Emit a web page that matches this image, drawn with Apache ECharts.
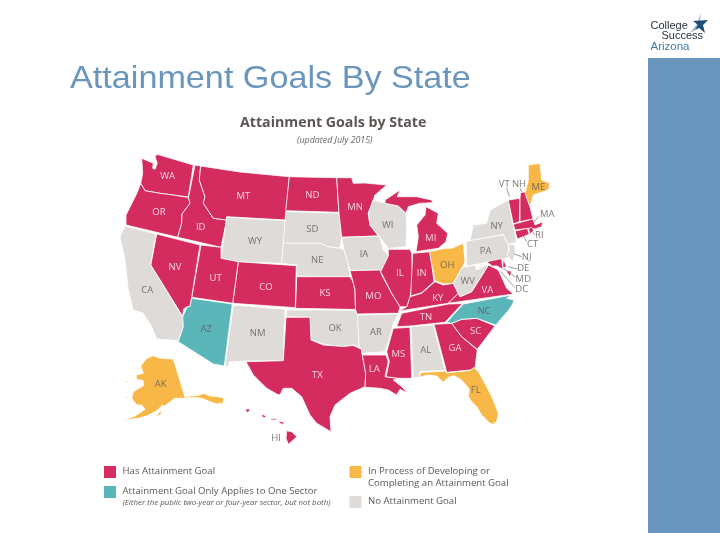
<!DOCTYPE html>
<html><head><meta charset="utf-8">
<style>html,body{margin:0;padding:0;background:#fff}#c{width:720px;height:533px;filter:blur(0.35px)}</style>
<script src="https://cdn.jsdelivr.net/npm/echarts@6/dist/echarts.min.js"></script>
</head><body><div id="c"></div>
<script>
// Category membership
const hasGoal = ['WA','OR','ID','MT','ND','MN','NV','UT','CO','KS','MO','IL','IN','MI','KY','TN','VA','TX','LA','MS','GA','SC','VT','NH','MA','CT','RI','MD','DE','HI'];
const oneSector = ['AZ','NC'];
const inProcess = ['AK','FL','OH','ME'];
const noGoal = ['CA','WY','SD','NE','NM','OK','IA','WI','AR','AL','WV','PA','NY','NJ','DC'];
const categoryNames = ['Has Attainment Goal','Attainment Goal Only Applies to One Sector','In Process of Developing or\nCompleting an Attainment Goal','No Attainment Goal'];
const categoryColors = ['#D42C5E','#5BB6B9','#F8B848','#DEDBD8'];

// State outlines (map units = picture pixels)
const outlines = {
WA:[[[141.7,158.3],[153.3,163.3],[152.7,168.3],[155,169.3],[157.3,163.3],[155,156.7],[157.3,154.3],[193.3,165],[188.3,197],[173,195],[160,193.3],[145,190.7],[140.7,183.3],[142.7,173.3]]],
OR:[[[140.7,183.3],[145,190.7],[160,193.3],[173,195],[188.5,197.5],[190,203.3],[182,214],[181.7,223.3],[177.7,237.3],[126,225],[126,215],[131,205],[137,193]]],
ID:[[[195,165],[200.7,166],[199.3,180],[205,196.7],[203.3,203.3],[213.3,218.3],[226.7,220],[221,247.3],[177.7,237.3],[181.7,223.3],[182,214],[190,203.3],[188.5,197.5]]],
MT:[[[200.7,166],[240,172],[289.3,176.7],[285.7,220],[226.7,216.7],[226.7,220],[213.3,218.3],[203.3,203.3],[205,196.7],[199.3,180]]],
WY:[[[226.7,217.3],[285.7,220.7],[281.7,263.3],[238.3,261.7],[221,258.3]]],
ND:[[[289.3,176.7],[336.7,177.7],[339,212.3],[285.7,210.7]]],
SD:[[[285.7,211.7],[339,213.3],[341.7,237.3],[340,248.3],[328,246.7],[320,243.3],[283.3,243.3]]],
NE:[[[283.3,243.3],[320,243.3],[328,246.7],[340,248.3],[344,250],[348,263],[350,276.7],[296.7,276],[296.7,265],[281.7,263.3]]],
KS:[[[296.7,276.7],[350,276.7],[353,281.7],[355,290],[355.5,309.5],[295.5,308.3]]],
CO:[[[238.3,261.7],[296.3,265.7],[295.3,307.7],[232.7,303.3]]],
UT:[[[201,245],[221,247.3],[221,258.3],[238.3,261.7],[232.7,303.3],[191.7,297.3]]],
NV:[[[156.7,234],[200,245],[191.7,297.3],[190,306.7],[187.3,306.7],[183.5,309],[182.7,316.5],[150.7,265]]],
CA:[[[125,226],[156,234],[150.7,265],[182.7,316.7],[183.3,326.7],[178.3,340.7],[156.7,339],[151.7,326.7],[143,313],[133.3,310],[128.3,290],[125,260],[120,236.7]]],
AZ:[[[191.7,298.3],[232.3,304],[224.3,366],[213.3,364],[178.3,341.7],[183.3,326.7],[182.7,316.7],[187.3,306.7],[190,306.7]]],
NM:[[[233.3,305],[285,309.3],[283.3,360.7],[246,361],[229.3,361.7],[228.3,366.7],[225,366]]],
OK:[[[286.7,310],[330,310],[356,310.5],[358,315],[359.3,346.7],[353,345],[343,346.7],[330,345],[323,344],[313.3,340],[311,340],[310,317.3],[286,316.7]]],
TX:[[[286,317.3],[310,317.3],[311,340],[323.3,345],[343,346.5],[353,345.5],[361.7,349.3],[362.3,355],[365.7,373.3],[365,386.7],[350,393.3],[335,405],[330,416.7],[331,431.7],[330,430.7],[316.7,423.3],[310,415],[301.7,396.7],[291.7,388.3],[283.3,388.3],[280,395],[276.7,394],[266.7,388.3],[253.3,375],[246,361.7],[283.3,360.7]]],
AK:[[[153.3,355.7],[160,358.3],[173.3,359],[185,397.3],[190,396],[200,395],[203.3,393.3],[210,396],[218.3,396.7],[224,398.3],[222.7,403.3],[216.7,404],[210,401.7],[201.7,398.3],[193.3,397.3],[185,398.3],[175,398.3],[168.3,403.3],[163.3,406.7],[162.7,405],[156.7,410.7],[146.7,416],[138.3,418.3],[130,419.3],[121.7,420.7],[135,416],[145,409.3],[141.7,405],[136.7,405],[131.7,398.3],[133.3,391.7],[143.3,385.7],[143.3,380.7],[136.7,379.3],[136,375],[143.3,373.3],[140.7,366],[146.7,358.3]],[[125,380],[128,382],[126,383]],[[125,397],[128,397],[127,398.5]],[[156.7,415],[161.7,410],[161,414],[157,416.5]]],
HI:[[[286.7,430.7],[291.7,431.7],[296.7,436.7],[293.3,440],[288.3,444.3],[286,438.3]],[[245,409.3],[249,408.7],[250,411],[247,412.5]],[[261.7,414],[266,416],[265,418],[262,416.7]],[[270,419],[276,418.3],[276.7,420],[271,420]],[[278.3,421],[284,422.3],[283.3,424.7],[280,423.3]]],
MN:[[[336.7,177.7],[351.7,177.7],[353.3,183.3],[365,183],[386.7,185],[375,195],[373.3,200],[368.3,213.3],[370,225],[378.3,236],[341.7,237.3],[339,213.3]]],
WI:[[[373.3,200],[385,203.3],[398.3,206],[406,213.3],[406.7,226.7],[406,246.7],[388.3,248.3],[380,237.3],[370,225],[368.3,213.3]]],
IA:[[[341.7,237.3],[378.3,236],[380,237.3],[383.3,250],[388.3,255],[383.3,270],[350,270.7],[348,263],[344,250]]],
MO:[[[350,270.7],[380,270],[381.7,275],[391.7,293.3],[400,306.7],[398.3,313.3],[393.3,313.3],[357,314],[355.5,309.5],[355,290],[353,281.7]]],
AR:[[[357.3,315],[393.3,314],[398.3,313.8],[393.3,323.3],[390,336.7],[385,351.7],[361.7,353.3],[361.7,349],[359.3,346.7]]],
LA:[[[362.3,355],[386,355],[388.3,361.7],[385,376.7],[398.3,378.3],[393.3,380],[401.7,386.7],[408.3,393.3],[400,389.3],[396.7,395],[388.3,390],[380,388.3],[365,387.3],[365.7,373.3]]],
MS:[[[393.3,328.3],[410,327.3],[411.7,378.3],[398.3,378.3],[386,376.7],[389.3,361.7],[386.7,351.7]]],
AL:[[[411,326.7],[433.3,325],[445,370],[420,371.7],[420,377],[413.3,378]]],
GA:[[[434,324.3],[451.7,323.3],[461.7,336.7],[477.3,350],[475,368.3],[470,370],[446.7,372.3]]],
FL:[[[420,372.7],[445,371],[446.7,372.8],[470,370.5],[474,367.3],[478.3,371.7],[486.7,386.7],[493.3,400],[498.3,413.3],[496.7,421.7],[492.7,424.3],[489.3,422.7],[481.7,415],[476.7,406.7],[471.7,401.7],[468.3,396.7],[469.3,389.3],[461.7,380],[454,375.7],[448.3,377.3],[443.3,382.3],[436.7,376],[426.7,375],[420,377.3]]],
SC:[[[451.7,323.3],[461.7,319.3],[476.7,318.3],[495,326],[477.3,349.3],[461.7,336.7]]],
NC:[[[446.7,322.3],[463.3,304],[511.7,295],[506.7,298.3],[514,300],[512.7,304],[508.3,310.7],[500,320],[496,325],[476.7,318.3],[461.7,319.3],[451.7,323.3]]],
TN:[[[396.7,326.7],[401.7,313.3],[448.3,304],[462.5,303.5],[445,322.3],[410,326]]],
KY:[[[399.3,311],[406.7,306.7],[410,296.7],[421.7,293.3],[435,281.7],[443.3,285],[453.3,283.3],[458.3,293.3],[448.3,303.3]]],
IL:[[[388.3,249.3],[410,249.3],[411.7,253.3],[412.7,280],[410,296.7],[406.7,306.7],[400,306.7],[391.7,293.3],[380.7,271.7],[388.3,256]]],
IN:[[[412.7,253.3],[430,251.7],[434,281.7],[421.7,292.7],[410.7,296]]],
MI:[[[385,200],[400,190],[397.3,196.7],[416.7,196.7],[431.7,200],[432.7,202.7],[420,203.3],[408.3,206.7],[406,213.3],[398.3,206],[385,203.3]],[[426,206.7],[438.3,213.3],[436.7,223.3],[447.7,233.3],[446,241.7],[438.3,248.3],[416,251.7],[418.3,236.7],[416.7,225],[425,215]]],
OH:[[[429.3,251.7],[445,248.3],[451.7,248.3],[463.3,243.3],[465,261.7],[461.7,268.3],[453.3,283.3],[443.3,284],[435,280.7]]],
PA:[[[466,241.7],[471.7,240],[503.3,235],[508.3,245],[509,256.7],[503.3,259.5],[466.7,266]]],
NY:[[[508.3,200],[515,235],[516.7,242.3],[508.3,244.3],[503.3,234.5],[470,240.5],[473.3,225],[486.7,223.3],[490,210]]],
VT:[[[508.3,200],[520,198.3],[519.3,221.7],[513.3,224]]],
NH:[[[520,198.3],[520.5,192.7],[525,191.7],[530,206.7],[533,219],[520,221.7]]],
MA:[[[513.3,224.3],[532.7,219],[535,225],[542.7,221.7],[541.7,226.7],[535,229],[530,228.3],[515,230]]],
CT:[[[515,231],[527.3,228.3],[529.3,234.3],[517.3,239]]],
RI:[[[528.3,228.3],[531.7,227.7],[534,230],[530,234]]],
ME:[[[528.3,165],[540,163.3],[541.7,180],[550,183.3],[548.3,190],[533.3,195],[530,206.7],[525,193.3],[528.3,180]]],
NJ:[[[508.3,244.3],[515,245],[515,253.3],[512.7,261.7],[507.3,255],[509.3,250]]],
DE:[[[503.3,259],[506.7,266.7],[502.7,267.7]]],
MD:[[[486.7,261.7],[501.7,258.5],[502.8,269.5],[497,266],[492,266]],[[506,271],[511.7,271],[510,276.7]]],
DC:[[[499,270],[501.5,270],[501,272.5]]],
VA:[[[448.3,303.3],[458.3,293.3],[460,296.7],[471.7,291.7],[483.3,273.3],[488.3,265],[498.3,270],[506.7,288.3],[513.3,294]]],
WV:[[[465,266.7],[475,265],[476.7,270],[486.7,265],[488.3,265],[483.3,273.3],[471.7,291.7],[460,296.7],[458.3,293.3],[453.3,283.3],[461.7,268.3]]]
};

// Label anchors in map units
const labelAnchors = {WA:[167.7,176.7],OR:[159,212.3],ID:[200.7,227.7],MT:[243.3,196.7],WY:[255,241.7],ND:[312.3,195.7],SD:[312.3,229.3],NE:[317.3,260],KS:[325,293.3],CO:[266,287.3],UT:[215.7,278.3],NV:[175,267.3],CA:[147.3,290],AZ:[206.3,329.3],NM:[257.7,333.3],OK:[335,328.3],TX:[317.3,375],AK:[160.7,384],HI:[276,438.3],MN:[355,207.3],WI:[387.7,225],IA:[364,254],MO:[373.3,296],AR:[376,332.7],LA:[374.3,369.3],MS:[398.3,354.3],AL:[425.7,350],GA:[455,348.3],FL:[475.7,390],SC:[475.7,331],NC:[484,311],TN:[426,317.7],KY:[437.7,298.3],IL:[400,273.3],IN:[421.7,273.3],MI:[430.7,238.3],OH:[447.3,265],PA:[485.7,251.7],NY:[496.7,226.7],VA:[487.3,290],WV:[467.7,281],ME:[538.3,187.3],VT:[504.3,184.3],NH:[519,184.3],MA:[547.3,214.3],RI:[539.3,235],CT:[532.7,244.3],NJ:[526.7,257.3],DE:[523.3,268.3],MD:[523.3,279],DC:[521.7,289]};
const outsideLabels = ['VT','NH','MA','RI','CT','NJ','DE','MD','DC','HI'];
const leaderLines = [[[506.7,188],[509.3,196.7]],[[520,188],[521.7,192]],[[538.3,216.7],[533.3,223]],[[535,235],[530.7,230]],[[526.7,241.7],[523.3,236]],[[521.7,256.7],[514,254]],[[517.7,269],[508.3,266.7]],[[515.7,277.3],[503.3,268.3]],[[515,287.7],[500.7,271.7]]];

const groups = [hasGoal, oneSector, inProcess, noGoal];
const features = Object.keys(outlines).map(name => ({
  type:'Feature', properties:{name},
  geometry:{type:'MultiPolygon', coordinates: outlines[name].map(r=>[r.concat([r[0]])])}
}));
echarts.registerMap('usTraced',{type:'FeatureCollection',features});

const regions = [];
groups.forEach((g,i)=>g.forEach(name=>regions.push({name,itemStyle:{areaColor:categoryColors[i]}})));

const labelData = Object.keys(labelAnchors).map(name=>{
  const white = hasGoal.includes(name) && !outsideLabels.includes(name);
  return {name,value:labelAnchors[name],label:{color:white?'#fff':'#5c5856'}};
});

const FONT='"Open Sans","Noto Sans",sans-serif';
const legendPos=[[104,466],[104,486],[349.5,466],[349.5,496]];
const legendGraphic=[];
categoryColors.forEach((c,i)=>legendGraphic.push({type:'rect',shape:{x:legendPos[i][0],y:legendPos[i][1],width:12,height:12},style:{fill:c},silent:true}));
const tx=(text,x,y,font,fill,extra,more)=>Object.assign({type:'text',x,y,silent:true,style:Object.assign({text,font,fill,textVerticalAlign:'middle'},extra||{})},more||{});
legendGraphic.push(
 tx('Attainment Goals By State',70,79,'32px "Liberation Sans"','#6A96BD',null,{scaleX:1.068}),
 tx(categoryNames[0],122.5,471.7,'9.6px '+FONT,'#5c5856'),
 tx(categoryNames[1],122.5,491.7,'9.6px '+FONT,'#5c5856'),
 tx('(Either the public two-year or four-year sector, but not both)',122.5,503,'italic 7.9px '+FONT,'#5c5856'),
 tx('In Process of Developing or',368,471.7,'9.6px '+FONT,'#5c5856'),
 tx('Completing an Attainment Goal',368,483,'9.6px '+FONT,'#5c5856'),
 tx(categoryNames[3],368,501,'9.6px '+FONT,'#5c5856'),
 {type:'rect',shape:{x:648,y:58,width:72,height:475},style:{fill:'#6A96BD'},silent:true},
 tx('College',650.5,26,'11px "Liberation Sans"','#27303a'),
 tx('Success',661.5,36,'11px "Liberation Sans"','#27303a'),
 tx('Arizona',650.5,46.5,'11.5px "Liberation Sans"','#3f78a8'),
 {type:'polygon',shape:{points:[[701,13],[697,24],[690,33],[698,28],[700,20]]},style:{fill:'#8fb3d1'},silent:true},
 {type:'polygon',shape:{points:[[693,21],[708,20],[703,25],[705,33],[699,28],[695,30],[698,25]]},style:{fill:'#1f4e79'},silent:true}
);

const chart=echarts.init(document.getElementById('c'),null,{renderer:'canvas'});
chart.setOption({
 animation:false,backgroundColor:'#fff',
 title:[
  {text:'Attainment Goals by State',left:240,top:115.5,padding:0,textStyle:{fontFamily:FONT,fontSize:14.2,fontWeight:'bold',color:'#5c5553'}},
  {text:'(updated July 2015)',left:297,top:136,padding:0,textStyle:{fontFamily:FONT,fontSize:8.85,fontStyle:'italic',fontWeight:'normal',color:'#6a6562'}}
 ],
 geo:{map:'usTraced',left:0,top:0,width:720,height:533,
  projection:{project:p=>p,unproject:p=>p},
  boundingCoords:[[0,0],[720,533]],
  roam:false,silent:true,
  label:{show:false},
  itemStyle:{areaColor:'#DEDBD8',borderColor:'#fff',borderWidth:0.8},
  regions},
 series:[
  {type:'lines',coordinateSystem:'geo',silent:true,data:leaderLines.map(coords=>({coords})),lineStyle:{color:'#77716e',width:0.7,opacity:1,curveness:0},symbol:'none',z:3},
  {type:'scatter',coordinateSystem:'geo',silent:true,symbolSize:0,data:labelData,z:4,
   label:{show:true,position:'inside',formatter:p=>p.name,fontFamily:FONT,fontSize:9.5}}
 ],
 graphic:legendGraphic
});
</script></body></html>
